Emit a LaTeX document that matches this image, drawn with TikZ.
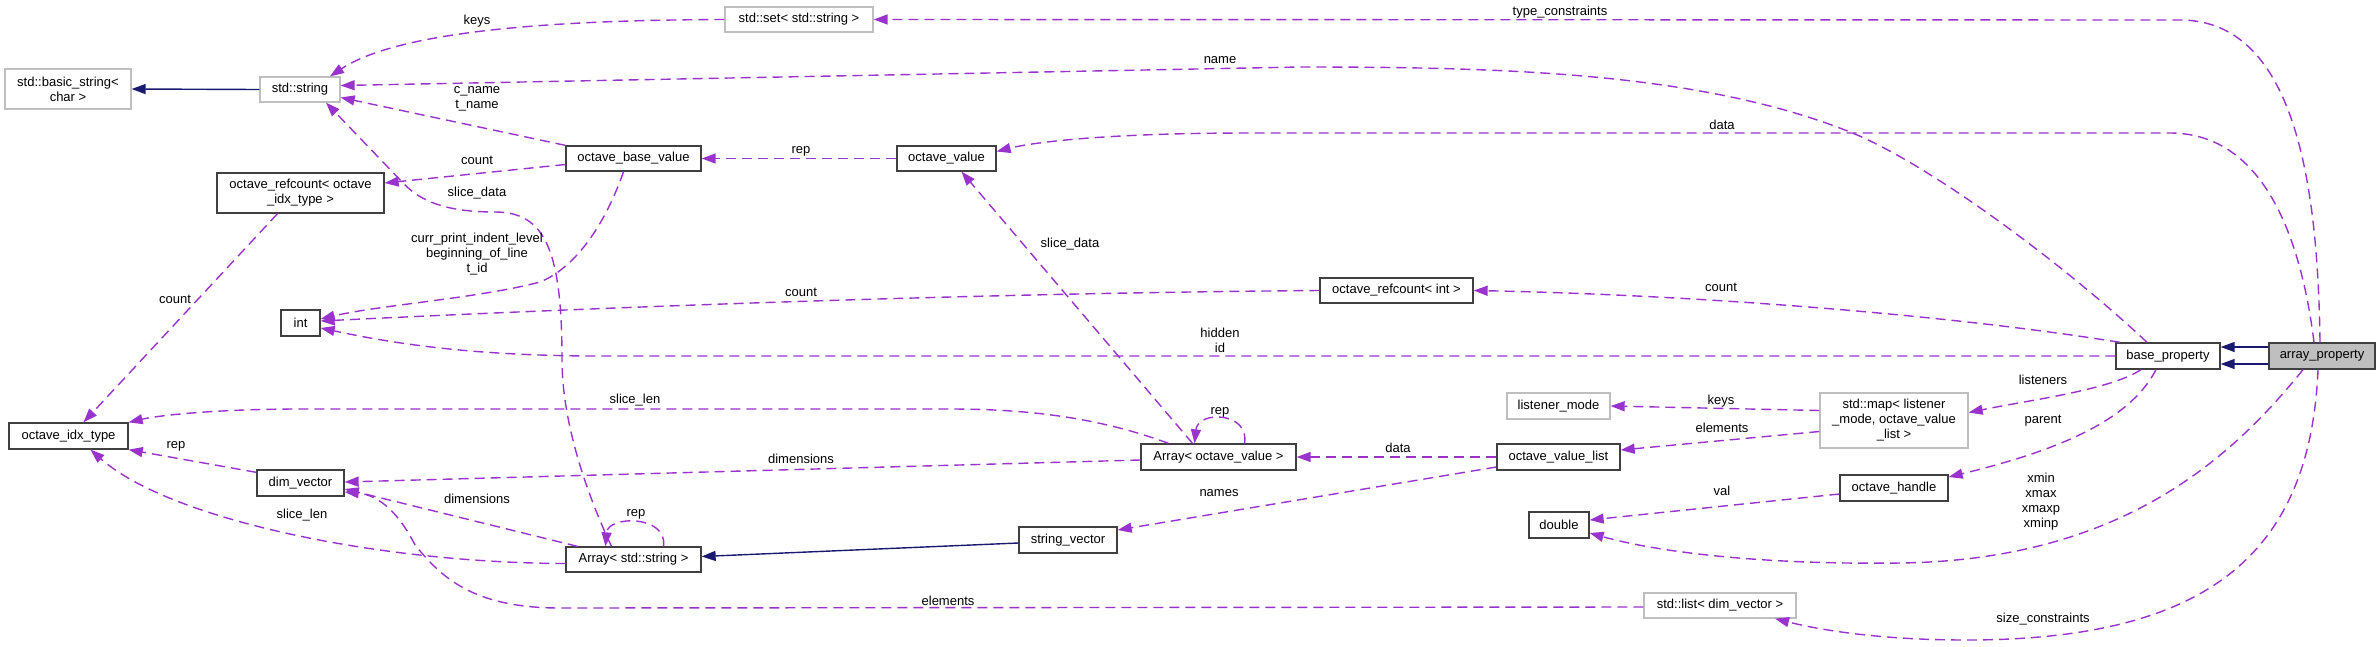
\documentclass[tikz,border=0pt]{standalone}
\usepackage{fontspec}
\setmainfont{Liberation Sans}
\usetikzlibrary{arrows.meta}
\definecolor{edgec}{HTML}{9A32CD}
\definecolor{inhc}{HTML}{191970}
\definecolor{undoc}{HTML}{BFBFBF}
\definecolor{docb}{HTML}{404040}
\begin{document}
\begin{tikzpicture}[x=1pt,y=-1pt,
  font=\fontsize{13}{15}\selectfont,
  cls/.style={draw=docb,line width=1.3pt,inner sep=0pt,minimum height=25pt,align=center,fill=white},
  ucls/.style={cls,draw=undoc},
  rel/.style={draw=edgec,line width=1.4pt,dash pattern=on 10pt off 6pt,-{Triangle[length=14pt,width=10pt]}},
  inh/.style={draw=inhc,line width=1.4pt,-{Triangle[length=14pt,width=10pt]}},
  lbl/.style={inner sep=0pt,align=center},
]
\useasboundingbox (0,0) rectangle (2380,646);

% nodes
\node[ucls,minimum width=126pt,minimum height=40pt] (basic) at (68,89) {std::basic\_string<\\char >};
\node[ucls,minimum width=80pt] (stdstring) at (300,89.5) {std::string};
\node[ucls,minimum width=148pt] (set) at (799,19.5) {std::set< std::string >};
\node[cls,minimum width=135pt] (obv) at (633.5,158.5) {octave\_base\_value};
\node[cls,minimum width=99pt] (ov) at (946.5,158.5) {octave\_value};
\node[cls,minimum width=167pt,minimum height=40pt] (rcidx) at (300.5,193) {octave\_refcount< octave\\\_idx\_type >};
\node[cls,minimum width=39pt,minimum height=26pt] (int) at (300.5,323) {int};
\node[cls,minimum width=119pt,minimum height=26pt] (idx) at (68.5,436) {octave\_idx\_type};
\node[cls,minimum width=87pt,minimum height=26pt] (dimv) at (300.5,483) {dim\_vector};
\node[cls,minimum width=135pt] (arrs) at (633.5,559.5) {Array< std::string >};
\node[cls,minimum width=98pt,minimum height=26pt] (strv) at (1068,540) {string\_vector};
\node[cls,minimum width=155pt,minimum height=26pt] (arrov) at (1218.5,457) {Array< octave\_value >};
\node[cls,minimum width=153pt] (rcint) at (1396.5,290.5) {octave\_refcount< int >};
\node[cls,minimum width=123pt,minimum height=26pt] (ovl) at (1558.5,457) {octave\_value\_list};
\node[ucls,minimum width=103pt,minimum height=26pt] (lmode) at (1558.5,406) {listener\_mode};
\node[ucls,minimum width=148pt,minimum height=55pt] (map) at (1894,420.5) {std::map< listener\\\_mode, octave\_value\\\_list >};
\node[cls,minimum width=60pt,minimum height=26pt] (double) at (1559,525) {double};
\node[cls,minimum width=108pt,minimum height=26pt] (ohandle) at (1894,488) {octave\_handle};
\node[ucls,minimum width=152pt] (list) at (1720,605.5) {std::list< dim\_vector >};
\node[cls,minimum width=104pt,minimum height=26pt] (bprop) at (2168,356) {base\_property};
\node[cls,minimum width=106pt,minimum height=26pt,fill=undoc] (aprop) at (2322,356) {array\_property};

% edges
\draw[rel] ([xshift=-2pt]aprop.north) .. controls (2318,200) and (2300,20) .. (2180,20) -- (set.east);
\draw[rel] ([xshift=-8pt]aprop.north) .. controls (2300,230) and (2260,133) .. (2170,133) -- (1250,133) .. controls (1100,133) and (1030,143) .. ([yshift=7pt]ov.east);
\draw[rel] ([xshift=-21pt]bprop.north) .. controls (2067,267) and (1930,164) .. (1850,132) .. controls (1700,72) and (1500,67) .. (1300,67) -- ([yshift=4pt]stdstring.east);
\draw[rel] (obv.north west) -- ([yshift=-8pt]stdstring.east);
\draw[rel] (set.west) .. controls (560,20) and (400,30) .. ([xshift=30pt]stdstring.north);
\draw[rel] ([xshift=-22pt]arrs.north) .. controls (585,490) and (562,420) .. (562,360) .. controls (562,250) and (545,212) .. (495,212) .. controls (455,212) and (425,205) .. (405,185) -- ([xshift=26pt]stdstring.south);
\draw[rel] ([yshift=-6pt]obv.west) -- ([yshift=10pt]rcidx.east);
\draw[rel] (ov.west) -- (obv.east);
\draw[rel] ([xshift=-10pt]obv.south) .. controls (605,225) and (575,268) .. (540,282) .. controls (480,298) and (380,305) .. ([yshift=4pt]int.east);
\draw[rel] (rcint.west) .. controls (1000,293) and (650,305) .. ([yshift=2pt]int.east);
\draw[rel] (bprop.west) -- (600,356) .. controls (480,356) and (400,345) .. ([yshift=-5pt]int.east);
\draw[rel] ([xshift=-48pt]bprop.north) .. controls (1950,315) and (1700,295) .. (rcint.east);
\draw[rel] ([xshift=-23pt]rcidx.south) -- ([xshift=15pt]idx.north);
\draw[rel] ([xshift=-50pt]arrov.north) .. controls (1100,418) and (1030,409) .. (950,409) -- (300,409) .. controls (220,409) and (160,415) .. (idx.north east);
\draw[rel] ([yshift=-3pt]arrov.west) -- ([yshift=1pt]dimv.east);
\draw[rel] ([yshift=-3pt]dimv.north west) -- (idx.south east);
\draw[rel] ([yshift=-4pt]arrs.west) .. controls (380,563) and (170,520) .. ([xshift=22pt]idx.south);
\draw[rel] ([xshift=-56pt]arrs.north) -- ([yshift=-6pt]dimv.east);
\draw[rel] ([yshift=-1.5pt]list.west) -- (560,608) .. controls (470,608) and (440,575) .. (415,545) .. controls (400,515) and (380,495) .. ([yshift=-9pt]dimv.east);
\draw[inh] ([yshift=-3pt]strv.west) -- ([yshift=3pt]arrs.east);
\draw[inh] (stdstring.west) -- (basic.east);
\draw[inh] ([yshift=9pt]aprop.west) -- ([yshift=9pt]bprop.east);
\draw[inh] ([yshift=-8pt]aprop.west) -- ([yshift=-8pt]bprop.east);
\draw[rel] (ovl.west) -- (arrov.east);
\draw[rel] ([yshift=-10pt]ovl.west) -- ([yshift=10pt]strv.east);
\draw[rel] ([xshift=-26pt]arrov.north) -- ([xshift=15pt]ov.south);
\draw[rel] ([xshift=26pt]arrov.north) .. controls (1250,412) and (1198,410) .. ([xshift=-24pt]arrov.north);
\draw[rel] ([xshift=30pt]arrs.north) .. controls (668,515) and (608,515) .. ([xshift=-28pt]arrs.north);
\draw[rel] ([yshift=10pt]map.west) -- (lmode.east);
\draw[rel] ([yshift=-11pt]map.west) -- ([yshift=7pt]ovl.east);
\draw[rel] ([xshift=-27pt]bprop.south) .. controls (2110,390) and (2030,400) .. ([yshift=8pt]map.east);
\draw[rel] ([xshift=-12pt]bprop.south) .. controls (2130,420) and (2060,450) .. ([yshift=11pt]ohandle.east);
\draw[rel] ([yshift=-6pt]ohandle.west) -- ([yshift=5pt]double.east);
\draw[rel] ([xshift=-19pt]aprop.south) .. controls (2230,460) and (2120,560) .. (1900,563) .. controls (1750,565) and (1650,550) .. ([yshift=-8pt]double.east);
\draw[rel] ([xshift=-4pt]aprop.south) .. controls (2310,560) and (2200,640) .. (1966,640) .. controls (1880,640) and (1820,630) .. ([xshift=55pt]list.south);

% labels
\node[lbl] (l01) at (1560,12) {type\_constraints};
\node[lbl] (l02) at (477,21) {keys};
\node[lbl] (l03) at (1220,60) {name};
\node[lbl] (l04) at (1722,125) {data};
\node[lbl] (l05) at (477,99) {c\_name\\t\_name};
\node[lbl] (l06) at (801,151) {rep};
\node[lbl] (l07) at (477,160) {count};
\node[lbl] (l08) at (477,193) {slice\_data};
\node[lbl] (l09) at (477,254) {curr\_print\_indent\_level\\beginning\_of\_line\\t\_id};
\node[lbl] (l10) at (1070,244) {slice\_data};
\node[lbl] (l11) at (801,292) {count};
\node[lbl] (l12) at (1721,287) {count};
\node[lbl] (l13) at (175,299) {count};
\node[lbl] (l14) at (1220,340) {hidden\\id};
\node[lbl] (l15) at (635,400) {slice\_len};
\node[lbl] (l16) at (1721,401) {keys};
\node[lbl] (l17) at (2043,380) {listeners};
\node[lbl] (l18) at (1220,412) {rep};
\node[lbl] (l19) at (2043,421) {parent};
\node[lbl] (l20) at (1722,428) {elements};
\node[lbl] (l21) at (176,446) {rep};
\node[lbl] (l22) at (1398,448) {data};
\node[lbl] (l23) at (801,459) {dimensions};
\node[lbl] (l24) at (2041,502) {xmin\\xmax\\xmaxp\\xminp};
\node[lbl] (l25) at (1722,491) {val};
\node[lbl] (l26) at (1219,493) {names};
\node[lbl] (l27) at (477,499) {dimensions};
\node[lbl] (l28) at (302,515) {slice\_len};
\node[lbl] (l29) at (636,514) {rep};
\node[lbl] (l30) at (948,601) {elements};
\node[lbl] (l31) at (2043,619) {size\_constraints};
\end{tikzpicture}
\end{document}
